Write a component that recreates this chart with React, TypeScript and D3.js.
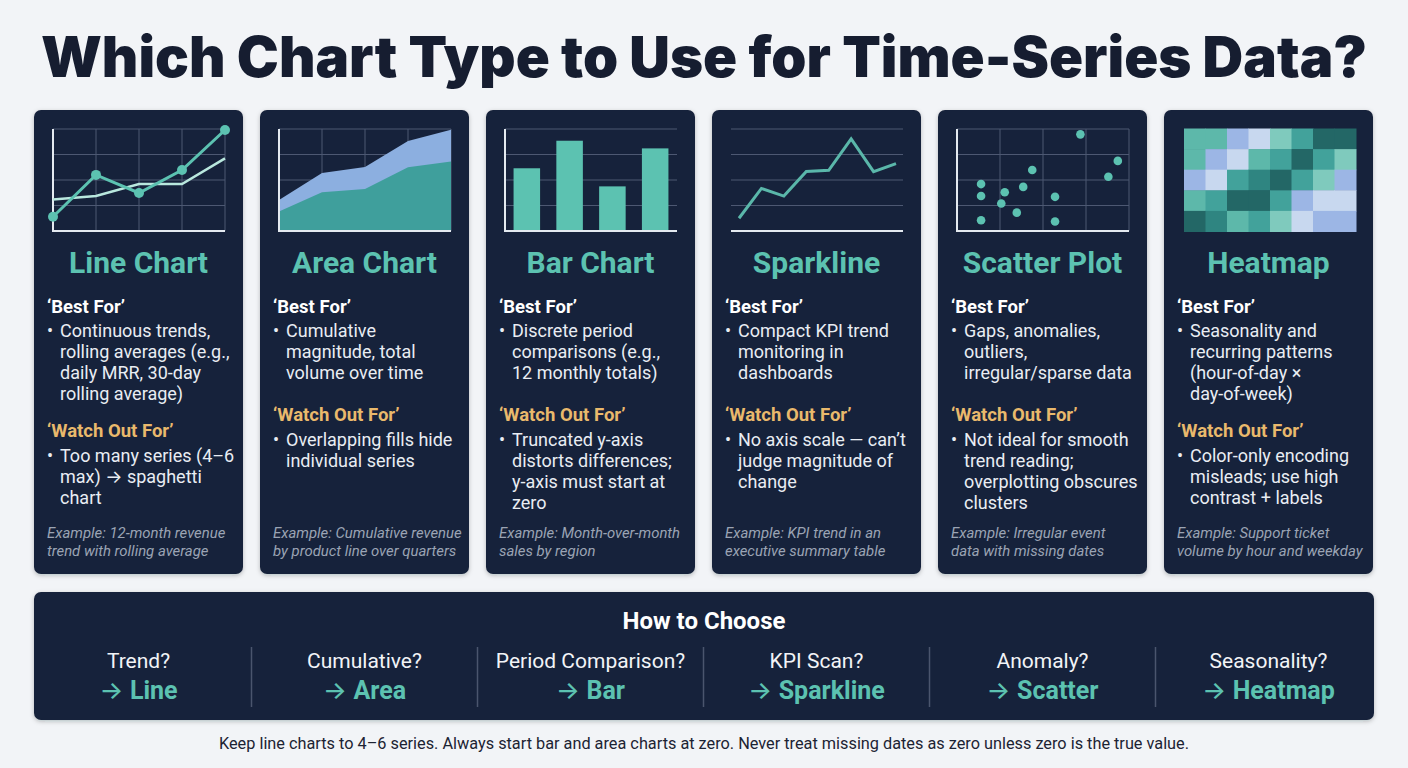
import React from "react";
import * as d3 from "d3";

// ---- data ----
const cardTitles = ["Line Chart", "Area Chart", "Bar Chart", "Sparkline", "Scatter Plot", "Heatmap"];

const bestFor = [
  ["Continuous trends,", "rolling averages (e.g.,", "daily MRR, 30-day", "rolling average)"],
  ["Cumulative", "magnitude, total", "volume over time"],
  ["Discrete period", "comparisons (e.g.,", "12 monthly totals)"],
  ["Compact KPI trend", "monitoring in", "dashboards"],
  ["Gaps, anomalies,", "outliers,", "irregular/sparse data"],
  ["Seasonality and", "recurring patterns", "(hour-of-day ×", "day-of-week)"],
];

const watchOut = [
  ["Too many series (4–6", "max) → spaghetti", "chart"],
  ["Overlapping fills hide", "individual series"],
  ["Truncated y-axis", "distorts differences;", "y-axis must start at", "zero"],
  ["No axis scale — can’t", "judge magnitude of", "change"],
  ["Not ideal for smooth", "trend reading;", "overplotting obscures", "clusters"],
  ["Color-only encoding", "misleads; use high", "contrast + labels"],
];

const examples = [
  ["Example: 12-month revenue", "trend with rolling average"],
  ["Example: Cumulative revenue", "by product line over quarters"],
  ["Example: Month-over-month", "sales by region"],
  ["Example: KPI trend in an", "executive summary table"],
  ["Example: Irregular event", "data with missing dates"],
  ["Example: Support ticket", "volume by hour and weekday"],
];

const questions = ["Trend?", "Cumulative?", "Period Comparison?", "KPI Scan?", "Anomaly?", "Seasonality?"];
const answers = ["Line", "Area", "Bar", "Sparkline", "Scatter", "Heatmap"];

// mini chart values
const lineMain = [0.56, 2.2, 1.49, 2.39, 3.96];
const lineRolling = [1.24, 1.37, 1.84, 1.84, 2.85];
const areaLower = [0.76, 1.52, 1.65, 2.5, 2.73];
const areaUpper = [1.22, 2.27, 2.51, 3.53, 3.97];
const barValues = [2.46, 3.54, 1.75, 3.24];
const sparkValues = [0.5, 1.67, 1.37, 2.33, 2.38, 3.61, 2.33, 2.64];
const scatterX = [2.87, 3.74, 3.52, 1.75, 0.56, 0.56, 1.11, 1.54, 1.03, 2.28, 1.39, 0.56, 2.28];
const scatterY = [3.79, 2.75, 2.13, 2.39, 1.84, 1.37, 1.52, 1.73, 1.08, 1.34, 0.72, 0.42, 0.37];
const heatRows = [
  [3, 3, 1, 0, 2, 4, 6, 6],
  [3, 1, 0, 3, 4, 6, 4, 2],
  [1, 0, 4, 5, 6, 4, 2, 1],
  [3, 4, 6, 6, 4, 1, 0, 0],
  [6, 5, 3, 4, 2, 0, 1, 1],
];

const BG = "#f2f4f7";
const CARD = "#18223b";
const TEAL = "#5cc2b1";
const GOLD = "#e9b96c";
const GRID = "#4d5872";
const AXIS = "#e4eaf0";
const BODY_FONT = "Roboto, 'Noto Sans', sans-serif";
const ARROW_FONT = "Inter, 'DejaVu Sans', sans-serif";

const cardW = 209;
const cardStep = 226;
const cardX0 = 34;
const cardTop = 110;
const cardBottom = 574;
const plotTop = 129;
const plotBottom = 231;

// split a text line so that arrows are drawn with a font that has a full-size arrow
function withArrows(s: string) {
  const parts = s.split("→");
  return parts.map((p, i) => (
    <React.Fragment key={i}>
      {i > 0 && <tspan fontFamily={ARROW_FONT}>→</tspan>}
      {p}
    </React.Fragment>
  ));
}

function MiniChart({ kind, cx }: { kind: number; cx: number }) {
  const x0 = cx + 19;
  const x1 = cx + 191;
  const y = d3.scaleLinear().domain([0, 4]).range([plotBottom, plotTop]);
  const ticks = [1, 2, 3, 4];

  if (kind === 0 || kind === 1 || kind === 4) {
    const x = d3.scaleLinear().domain([0, 4]).range([x0, x1]);
    const grid = (
      <g stroke={GRID} strokeWidth={1}>
        {ticks.map((t) => (
          <line key={"h" + t} x1={x0} x2={x1} y1={y(t)} y2={y(t)} />
        ))}
        {ticks.map((t) => (
          <line key={"v" + t} x1={x(t)} x2={x(t)} y1={plotTop} y2={plotBottom} />
        ))}
      </g>
    );
    const axes = (
      <path d={`M${x0},${plotTop}V${plotBottom}H${x1}`} fill="none" stroke={AXIS} strokeWidth={2} />
    );
    if (kind === 0) {
      const line = d3.line<number>().x((_, i) => x(i)).y((d) => y(d));
      return (
        <g>
          {grid}
          {axes}
          <path d={line(lineRolling) || ""} fill="none" stroke="#b9e8de" strokeWidth={2.5} />
          <path d={line(lineMain) || ""} fill="none" stroke={TEAL} strokeWidth={3} />
          {lineMain.map((d, i) => (
            <circle key={i} cx={x(i)} cy={y(d)} r={5} fill={TEAL} />
          ))}
        </g>
      );
    }
    if (kind === 1) {
      const area = d3.area<number>().x((_, i) => x(i)).y0(plotBottom).y1((d) => y(d));
      return (
        <g>
          {grid}
          <path d={area(areaUpper) || ""} fill="#8cafe0" />
          <path d={area(areaLower) || ""} fill="#3f9f9c" />
          {axes}
        </g>
      );
    }
    return (
      <g>
        {grid}
        {axes}
        {scatterX.map((d, i) => (
          <circle key={i} cx={x(d)} cy={y(scatterY[i])} r={4.3} fill={TEAL} />
        ))}
      </g>
    );
  }

  if (kind === 2) {
    const xb = d3.scaleBand<number>().domain(d3.range(barValues.length)).range([x0, x1]).paddingInner(0.38).paddingOuter(0.2);
    return (
      <g>
        <g stroke={GRID} strokeWidth={1}>
          {ticks.map((t) => (
            <line key={t} x1={x0} x2={x1} y1={y(t)} y2={y(t)} />
          ))}
        </g>
        {barValues.map((d, i) => (
          <rect key={i} x={xb(i)} y={y(d)} width={xb.bandwidth()} height={plotBottom - y(d)} fill={TEAL} />
        ))}
        <path d={`M${x0},${plotTop}V${plotBottom}H${x1}`} fill="none" stroke={AXIS} strokeWidth={2} />
      </g>
    );
  }

  if (kind === 3) {
    const xs = d3.scaleLinear().domain([0, sparkValues.length - 1]).range([cx + 27, cx + 184]);
    const line = d3.line<number>().x((_, i) => xs(i)).y((d) => y(d));
    return (
      <g>
        <g stroke={GRID} strokeWidth={1}>
          {ticks.map((t) => (
            <line key={t} x1={x0} x2={x1} y1={y(t)} y2={y(t)} />
          ))}
        </g>
        <line x1={x0} x2={x1} y1={plotBottom} y2={plotBottom} stroke={AXIS} strokeWidth={2} />
        <path d={line(sparkValues) || ""} fill="none" stroke="#5ab7aa" strokeWidth={3} />
      </g>
    );
  }

  // heatmap
  const hx = d3.scaleBand<number>().domain(d3.range(8)).range([cx + 20, cx + 192]);
  const hy = d3.scaleBand<number>().domain(d3.range(5)).range([plotTop - 0.5, plotBottom + 0.5]);
  const heatColor = d3
    .scaleOrdinal<number, string>()
    .domain([0, 1, 2, 3, 4, 5, 6])
    .range(["#c8d8ef", "#9cb6e5", "#7fcabd", "#5db8aa", "#42a29b", "#2f8581", "#236766"]);
  return (
    <g>
      {heatRows.map((row, r) =>
        row.map((v, c) => (
          <rect key={r + "-" + c} x={hx(c)} y={hy(r)} width={hx.bandwidth() + 0.5} height={hy.bandwidth() + 0.5} fill={heatColor(v)} />
        ))
      )}
    </g>
  );
}

function Card({ i }: { i: number }) {
  const cx = cardX0 + i * cardStep;
  const tx = cx + 13;
  const lastBest = 337 + (bestFor[i].length - 1) * 21;
  const watchY = Math.max(421, lastBest + 37);
  return (
    <g>
      <rect x={cx} y={cardTop} width={cardW} height={cardBottom - cardTop} rx={7} fill={CARD} filter="url(#shadow)" />
      <MiniChart kind={i} cx={cx} />
      <text x={cx + cardW / 2} y={273} textAnchor="middle" fill={TEAL} fontFamily={BODY_FONT} fontWeight={700} fontSize={30}>
        {cardTitles[i]}
      </text>
      <text x={tx} y={313} fill="#ffffff" fontFamily={BODY_FONT} fontWeight={700} fontSize={18.5}>
        ‘Best For’
      </text>
      {bestFor[i].map((s, k) => (
        <text key={"b" + k} x={tx} y={337 + k * 21} fill="#e9edf3" fontFamily={BODY_FONT} fontSize={18}>
          {k === 0 && <tspan>•</tspan>}
          <tspan x={tx + 13}>{withArrows(s)}</tspan>
        </text>
      ))}
      <text x={tx} y={watchY} fill={GOLD} fontFamily={BODY_FONT} fontWeight={700} fontSize={18.5}>
        ‘Watch Out For’
      </text>
      {watchOut[i].map((s, k) => (
        <text key={"w" + k} x={tx} y={watchY + 25 + k * 21} fill="#e9edf3" fontFamily={BODY_FONT} fontSize={18}>
          {k === 0 && <tspan>•</tspan>}
          <tspan x={tx + 13}>{withArrows(s)}</tspan>
        </text>
      ))}
      {examples[i].map((s, k) => (
        <text key={"e" + k} x={tx} y={538 + k * 18} fill="#9ba4b4" fontFamily={BODY_FONT} fontStyle="italic" fontSize={14.9}>
          {s}
        </text>
      ))}
    </g>
  );
}

export default function App() {
  const panelX = 34;
  const panelW = 1340;
  // columns of the "How to Choose" strip line up with the cards above
  const col = d3
    .scaleBand<number>()
    .domain(d3.range(6))
    .range([cardX0 - (cardStep - cardW) / 2, cardX0 - (cardStep - cardW) / 2 + 6 * cardStep]);
  return (
    <div style={{ position: "absolute", left: 0, top: 0 }}>
      <svg width={1408} height={768} style={{ display: "block" }}>
        <defs>
          <filter id="shadow" x="-10%" y="-10%" width="120%" height="120%">
            <feDropShadow dx="0" dy="1.5" stdDeviation="2" floodColor="#0b1225" floodOpacity="0.25" />
          </filter>
        </defs>
        <rect width={1408} height={768} fill={BG} />
        <text
          x={704}
          y={77}
          textAnchor="middle"
          fill="#161d30"
          fontFamily="Inter, Lato, sans-serif"
          fontWeight={900}
          fontSize={56.3}
        >
          Which Chart Type to Use for Time-Series Data?
        </text>

        {cardTitles.map((_, i) => (
          <Card key={i} i={i} />
        ))}

        <rect x={panelX} y={592} width={panelW} height={128} rx={7} fill={CARD} filter="url(#shadow)" />
        <text x={704} y={629} textAnchor="middle" fill="#ffffff" fontFamily={BODY_FONT} fontWeight={700} fontSize={24}>
          How to Choose
        </text>
        {d3.range(1, 6).map((k) => (
          <line key={k} x1={col(k)} x2={col(k)} y1={647} y2={707} stroke="#4a556d" strokeWidth={1.5} />
        ))}
        {questions.map((q, k) => (
          <g key={q}>
            <text x={(col(k) || 0) + col.bandwidth() / 2} y={668} textAnchor="middle" fill="#f2f4f7" fontFamily={BODY_FONT} fontSize={21}>
              {q}
            </text>
            <text x={(col(k) || 0) + col.bandwidth() / 2} y={699} textAnchor="middle" fill={TEAL} fontFamily={BODY_FONT} fontSize={25} fontWeight={700}>
              <tspan fontFamily={ARROW_FONT} fontWeight={500}>→ </tspan>
              {answers[k]}
            </text>
          </g>
        ))}

        <text x={704} y={749} textAnchor="middle" fill="#1c2333" fontFamily={BODY_FONT} fontSize={16.3}>
          Keep line charts to 4–6 series. Always start bar and area charts at zero. Never treat missing dates as zero unless zero is the true value.
        </text>
      </svg>
    </div>
  );
}
